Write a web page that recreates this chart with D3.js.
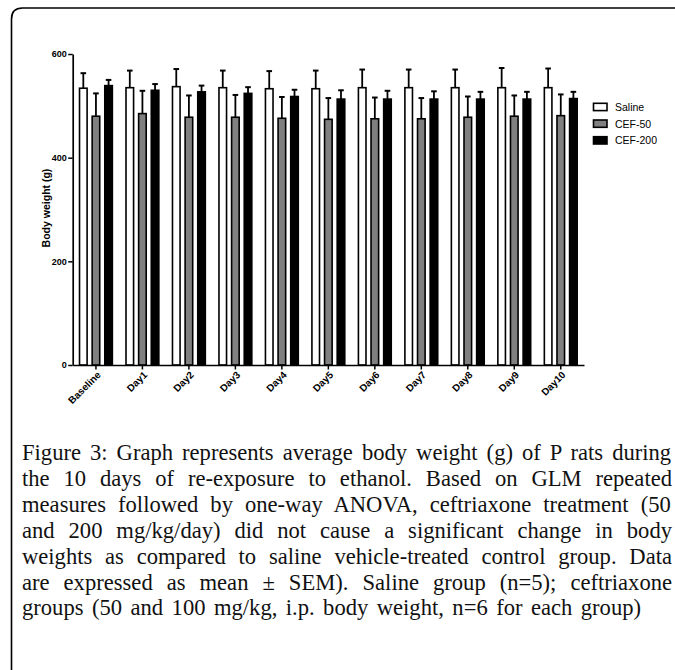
<!DOCTYPE html>
<html>
<head>
<meta charset="utf-8">
<script src="https://cdn.jsdelivr.net/npm/d3@7"></script>
<style>
html,body{margin:0;padding:0;background:#fff;}
svg{display:block;}
</style>
</head>
<body>
<svg id="chart" width="675" height="670"></svg>
<script>
const categories = ["Baseline","Day1","Day2","Day3","Day4","Day5","Day6","Day7","Day8","Day9","Day10"];
const seriesNames = ["Saline","CEF-50","CEF-200"];
const salineMean = [534, 535, 537, 535, 533, 533, 535, 535, 535, 535, 535];
const salineSEM  = [29, 33, 34, 33, 34, 35, 35, 35, 35, 38, 37];
const cef50Mean  = [480, 485, 478, 478, 476, 474, 475, 475, 478, 480, 481];
const cef50SEM   = [44, 44, 42, 43, 41, 41, 41, 40, 40, 40, 41];
const cef200Mean = [539, 530, 527, 524, 518, 513, 513, 513, 513, 513, 514];
const cef200SEM  = [11, 12, 12, 12, 13, 17, 16, 15, 14, 14, 13];
const yTicks = [0, 200, 400, 600];
const seriesFills = ["#ffffff", "#808080", "#000000"];
const captionLines = [
  "Figure 3: Graph represents average body weight (g) of P rats during",
  "the 10 days of re-exposure to ethanol. Based on GLM repeated",
  "measures followed by one-way ANOVA, ceftriaxone treatment (50",
  "and 200 mg/kg/day) did not cause a significant change in body",
  "weights as compared to saline vehicle-treated control group. Data",
  "are expressed as mean ± SEM). Saline group (n=5); ceftriaxone",
  "groups (50 and 100 mg/kg, i.p. body weight, n=6 for each group)"
];

const means = [salineMean, cef50Mean, cef200Mean];
const sems = [salineSEM, cef50SEM, cef200SEM];
const data = categories.map((c, i) => ({
  cat: c,
  vals: seriesNames.map((s, j) => ({series: s, mean: means[j][i], sem: sems[j][i], fill: seriesFills[j]}))
}));

const svg = d3.select("#chart");

// frame (right side falls outside the picture)
svg.append("path")
  .attr("d", "M11.5,670 L11.5,19 Q11.5,8 22.5,8 L675,8")
  .attr("fill", "none").attr("stroke", "#000").attr("stroke-width", 1.6);

const x0 = d3.scaleBand().domain(categories).range([72.7, 584]).paddingInner(0).paddingOuter(0);
const x1 = d3.scaleBand().domain(seriesNames).range([0, x0.bandwidth()]).paddingInner(0.4).paddingOuter(0.54);
const y = d3.scaleLinear().domain([0, 600]).range([365, 54]);

const g = svg.append("g");

const groups = g.selectAll("g.grp").data(data).enter().append("g")
  .attr("transform", d => `translate(${x0(d.cat)},0)`);

// error bars (upper only)
groups.selectAll("g.err").data(d => d.vals).enter().append("g").each(function(d) {
  const cx = x1(d.series) + x1.bandwidth() / 2;
  const sel = d3.select(this);
  sel.append("line").attr("x1", cx).attr("x2", cx)
    .attr("y1", y(d.mean)).attr("y2", y(d.mean + d.sem))
    .attr("stroke", "#000").attr("stroke-width", 1.8);
  sel.append("line").attr("x1", cx - 2.8).attr("x2", cx + 2.8)
    .attr("y1", y(d.mean + d.sem)).attr("y2", y(d.mean + d.sem))
    .attr("stroke", "#000").attr("stroke-width", 2);
});

groups.selectAll("rect").data(d => d.vals).enter().append("rect")
  .attr("x", d => x1(d.series))
  .attr("width", x1.bandwidth())
  .attr("y", d => y(d.mean))
  .attr("height", d => y(0) - y(d.mean))
  .attr("fill", d => d.fill)
  .attr("stroke", "#000").attr("stroke-width", 1.6);

// y axis
const yAxis = d3.axisLeft(y).tickValues(yTicks).tickSize(4.5).tickSizeOuter(0).tickPadding(1.5);
const ya = g.append("g").attr("transform", "translate(72.7,0)").call(yAxis);
ya.select(".domain").attr("stroke-width", 1.7);
ya.selectAll(".tick line").attr("stroke-width", 1.5);
ya.selectAll(".tick text").attr("font-family", "Liberation Sans, Arial, sans-serif")
  .attr("font-size", 9).attr("font-weight", "bold").attr("fill", "#000");

// x axis
const xAxis = d3.axisBottom(x0).tickSize(4.5).tickSizeOuter(0).tickPadding(3);
const xa = g.append("g").attr("transform", "translate(0,365)").call(xAxis);
xa.select(".domain").attr("stroke-width", 1.7);
xa.selectAll(".tick line").attr("stroke-width", 1.5);
xa.selectAll(".tick text")
  .attr("font-family", "Liberation Sans, Arial, sans-serif")
  .attr("font-size", 10).attr("font-weight", "bold").attr("fill", "#000")
  .attr("text-anchor", "end")
  .attr("dy", "0.35em")
  .attr("transform", "translate(3,8) rotate(-45)")
  .attr("y", 0).attr("x", 0);

// y label
g.append("text")
  .attr("transform", "translate(50,208) rotate(-90)")
  .attr("text-anchor", "middle")
  .attr("font-family", "Liberation Sans, Arial, sans-serif")
  .attr("font-size", 10.5).attr("font-weight", "bold")
  .text("Body weight (g)");

// legend
const legend = g.append("g").attr("transform", "translate(593.5,103.3)");
const li = legend.selectAll("g").data(seriesNames).enter().append("g")
  .attr("transform", (d, i) => `translate(0,${i * 16.7})`);
li.append("rect").attr("width", 13.5).attr("height", 7.3)
  .attr("fill", (d, i) => seriesFills[i]).attr("stroke", "#000").attr("stroke-width", 1.6);
li.append("text").attr("x", 21.5).attr("y", 3.8).attr("dy", "0.36em")
  .attr("font-family", "Liberation Sans, Arial, sans-serif").attr("font-size", 10.5)
  .text(d => d);

// caption, justified by word spacing
const capFont = "Liberation Serif, 'Times New Roman', serif";
const capSize = 22.6;
const ctx = document.createElement("canvas").getContext("2d");
ctx.font = `${capSize}px ${capFont}`;
const capLeft = 22, capWidth = 650, lastWidth = 619;
const cap = svg.append("g");
cap.selectAll("text").data(captionLines).enter().append("text")
  .attr("x", capLeft)
  .attr("y", (d, i) => 460 + i * 25.9)
  .attr("font-family", capFont)
  .attr("font-size", capSize)
  .attr("fill", "#111")
  .attr("word-spacing", (d, i) => {
    const target = i === captionLines.length - 1 ? lastWidth : capWidth;
    const w = ctx.measureText(d).width;
    const spaces = (d.match(/ /g) || []).length;
    return (target - w) / spaces;
  })
  .text(d => d);
</script>
</body>
</html>
